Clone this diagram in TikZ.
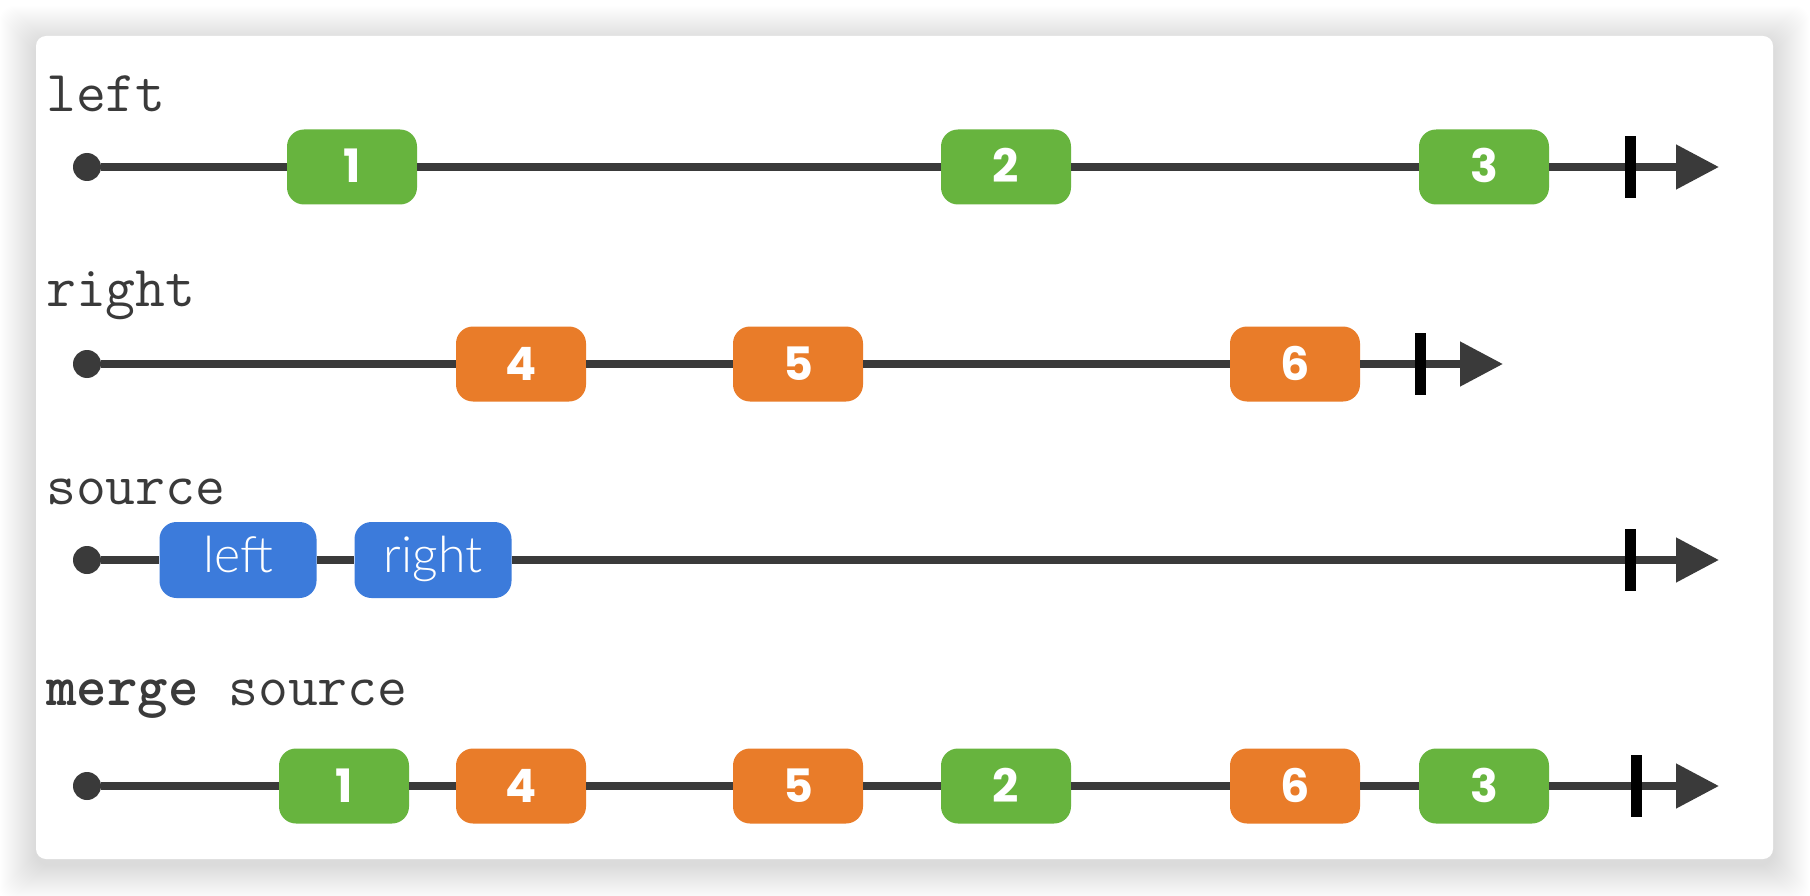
\documentclass[tikz,border=0pt]{standalone}
\usepackage{fontspec}
\newfontfamily\numfont{Poppins}
\newfontfamily\wordfont{Lato Light}
\usetikzlibrary{arrows.meta}

\definecolor{ink}{RGB}{58,58,58}
\definecolor{evgreen}{RGB}{103,180,62}
\definecolor{evorange}{RGB}{233,124,41}
\definecolor{evblue}{RGB}{60,123,219}

\tikzset{
  streamlabel/.style={anchor=base west, inner sep=0pt, text=ink,
    font=\ttfamily\fontsize{58}{66}\selectfont},
  startdot/.style={circle, fill=ink, inner sep=0pt, minimum size=28pt},
  axis/.style={draw=ink, line width=8pt},
  axisend/.style={axis, -{Triangle[length=43pt, width=43pt]}},
  endtick/.style={rectangle, fill=black, inner sep=0pt,
    minimum width=11pt, minimum height=62pt},
  event/.style={rectangle, rounded corners=17pt, inner sep=0pt,
    minimum width=130pt, minimum height=75pt, text=white,
    text height=32pt, text depth=0pt,
    font=\numfont\bfseries\fontsize{46}{50}\selectfont},
  green/.style={event, fill=evgreen},
  orange/.style={event, fill=evorange},
  inner/.style={rectangle, rounded corners=17pt, inner sep=0pt,
    minimum width=157pt, minimum height=76pt, text=white, fill=evblue,
    text height=36pt, text depth=12pt,
    font=\wordfont\fontsize{50}{60}\selectfont},
}

\begin{document}
\begin{tikzpicture}[x=1pt, y=-1pt]
  \useasboundingbox (0,0) rectangle (1810,896);

  % soft shadow around the card
  \foreach \e in {1,...,36} {
    \fill[black, opacity=0.0055, rounded corners=14pt]
      (36-\e,36-\e+6) rectangle (1773+\e,859+\e+6);
  }
  % card
  \fill[white, rounded corners=10pt] (36,36) rectangle (1773,859);

  % ---- left
  \node[streamlabel] (lbl1) at (46,112) {left};
  \node[startdot] (a0) at (87,167) {};
  \node[green] (a1) at (352,167) {1};
  \node[green] (a2) at (1006,167) {2};
  \node[green] (a3) at (1484,167) {3};
  \coordinate (aend) at (1719,167);
  \draw[axisend] (a0) -- (a1) -- (a2) -- (a3) -- (aend);
  \node[endtick] (at) at (1630,167) {};

  % ---- right
  \node[streamlabel] (lbl2) at (46,306) {right};
  \node[startdot] (b0) at (87,364) {};
  \node[orange] (b1) at (521,364) {4};
  \node[orange] (b2) at (798,364) {5};
  \node[orange] (b3) at (1295,364) {6};
  \coordinate (bend) at (1503,364);
  \draw[axisend] (b0) -- (b1) -- (b2) -- (b3) -- (bend);
  \node[endtick] (bt) at (1420,364) {};

  % ---- source
  \node[streamlabel] (lbl3) at (46,504) {source};
  \node[startdot] (c0) at (87,560) {};
  \node[inner] (c1) at (238,560) {left};
  \node[inner] (c2) at (433,560) {right};
  \coordinate (cend) at (1719,560);
  \draw[axisend] (c0) -- (c1) -- (c2) -- (cend);
  \node[endtick] (ct) at (1630,560) {};

  % ---- merge source
  \node[streamlabel] (lbl4) at (46,705) {\textbf{merge} source};
  \node[startdot] (d0) at (87,786) {};
  \node[green] (d1) at (344,786) {1};
  \node[orange] (d2) at (521,786) {4};
  \node[orange] (d3) at (798,786) {5};
  \node[green] (d4) at (1006,786) {2};
  \node[orange] (d5) at (1295,786) {6};
  \node[green] (d6) at (1484,786) {3};
  \coordinate (dend) at (1719,786);
  \draw[axisend] (d0) -- (d1) -- (d2) -- (d3) -- (d4) -- (d5) -- (d6) -- (dend);
  \node[endtick] (dt) at (1636,786) {};
\end{tikzpicture}
\end{document}
